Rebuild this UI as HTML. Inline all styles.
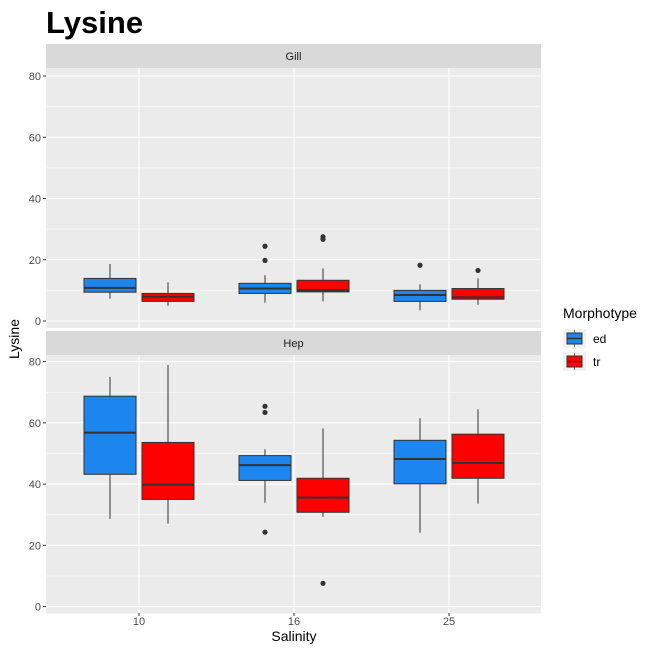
<!DOCTYPE html>
<html><head><meta charset="utf-8"><style>body{margin:0;background:#fff}svg{display:block;font-family:"Liberation Sans",Arial,sans-serif}</style></head>
<body>
<svg id="c" width="653" height="653" xmlns="http://www.w3.org/2000/svg">
<text x="46" y="33" font-size="31" font-weight="bold" fill="#000">Lysine</text>
<text x="294" y="641" font-size="14" text-anchor="middle" fill="#000">Salinity</text>
<text transform="translate(19,339) rotate(-90)" font-size="14" text-anchor="middle" fill="#000">Lysine</text>
<g>
<text x="563" y="318" font-size="14" fill="#000">Morphotype</text>
<g><rect x="563" y="329" width="23" height="19" fill="#f2f2f2"/><line x1="574.5" y1="330" x2="574.5" y2="347" stroke="#333" stroke-width="0.7"/><rect x="567" y="333" width="15" height="11" fill="#1c86ee" stroke="#333" stroke-width="1"/><line x1="567" y1="338.5" x2="582" y2="338.5" stroke="#333" stroke-width="1.4"/><text x="593" y="343" font-size="12" fill="#000">ed</text></g>
<g><rect x="563" y="352" width="23" height="19" fill="#f2f2f2"/><line x1="574.5" y1="353" x2="574.5" y2="370" stroke="#333" stroke-width="0.7"/><rect x="567" y="356" width="15" height="11" fill="#ff0000" stroke="#333" stroke-width="1"/><line x1="567" y1="361.5" x2="582" y2="361.5" stroke="#333" stroke-width="1.4"/><text x="593" y="366" font-size="12" fill="#000">tr</text></g>
</g>
</svg>
<script>
const categories=["10","16","25"];
const groups=["ed","tr"];
const facets=["Gill","Hep"];
// [category][group] = [whiskerLow, q1, median, q3, whiskerHigh]
const gillStats=[
 [[7.3,9.4,10.8,13.9,18.6],[5.0,6.4,7.9,9.0,12.6]],
 [[6.0,9.0,10.6,12.3,15.0],[6.4,9.5,10.1,13.3,17.2]],
 [[3.5,6.4,8.5,10.0,12.0],[5.3,7.1,7.7,10.6,13.9]]];
const gillOutliers=[[[],[]],[[24.4,19.8],[27.5,26.7]],[[18.2],[16.5]]];
const hepStats=[
 [[28.7,43.2,56.8,68.7,75.0],[27.1,35.0,39.8,53.6,78.9]],
 [[33.9,41.2,46.2,49.3,51.4],[29.4,30.8,35.6,41.9,58.2]],
 [[24.1,40.1,48.2,54.3,61.5],[33.6,41.9,46.9,56.3,64.4]]];
const hepOutliers=[[[],[]],[[65.4,63.4,24.3],[7.6]],[[],[]]];
const yTicks=[0,20,40,60,80];
const colors={ed:"#1c86ee",tr:"#ff0000"};
const NS="http://www.w3.org/2000/svg";
const svg=document.getElementById("c");
function mk(t,a,p){const e=document.createElementNS(NS,t);for(const k in a)e.setAttribute(k,a[k]);(p||svg).appendChild(e);return e;}
const X0=46,X1=541;
function xPos(i){return 139+i*155;}
function drawPanel(fi,stats,outs,stripTop,zeroY){
  const top=stripTop+24,bottom=zeroY+7;
  const g=mk("g",{});
  
  
  const st=mk("rect",{x:X0,y:stripTop,width:X1-X0,height:24,fill:"#d9d9d9"},g);
  
  
  const stt=mk("text",{x:(X0+X1)/2,y:stripTop+16,"font-size":11,"text-anchor":"middle",fill:"#1a1a1a"},g);
  stt.textContent=facets[fi];
  
  
  mk("rect",{x:X0,y:top,width:X1-X0,height:bottom-top,fill:"#ebebeb"},g);
  const yS=v=>zeroY-v*3.0625;
  for(let v=-10;v<=90;v+=10){const y=yS(v);if(y<top||y>bottom)continue;
    mk("line",{x1:X0,x2:X1,y1:y,y2:y,stroke:"#fff","stroke-width":v%20===0?1.1:0.5},g);}
  categories.forEach((c,i)=>mk("line",{x1:xPos(i),x2:xPos(i),y1:top,y2:bottom,stroke:"#fff","stroke-width":1.1},g));
  yTicks.forEach(v=>{const y=yS(v);
    mk("line",{x1:43,x2:46,y1:y,y2:y,stroke:"#333","stroke-width":1},g);
    const t=mk("text",{x:41,y:y+4,"font-size":11,"text-anchor":"end",fill:"#4d4d4d"},g);t.textContent=v;
    
    });
  categories.forEach((c,i)=>groups.forEach((gr,j)=>{
    const s=stats[i][j];const cx=xPos(i)+(j===0?-29:29);const hw=26;
    const b=mk("g",{},g);
    
    
    mk("line",{x1:cx,x2:cx,y1:yS(s[0]),y2:yS(s[4]),stroke:"#333","stroke-width":1},b);
    mk("rect",{x:cx-hw,y:yS(s[3]),width:2*hw,height:yS(s[1])-yS(s[3]),fill:colors[gr],stroke:"#333","stroke-width":1},b);
    mk("line",{x1:cx-hw,x2:cx+hw,y1:yS(s[2]),y2:yS(s[2]),stroke:"#333","stroke-width":2},b);
    outs[i][j].forEach(o=>{const p=mk("circle",{cx:cx,cy:yS(o),r:2.6,fill:"#333"},b);
      
      });
  }));
}
drawPanel(0,gillStats,gillOutliers,44,321);
drawPanel(1,hepStats,hepOutliers,331,606.6);
categories.forEach((c,i)=>{
  mk("line",{x1:xPos(i),x2:xPos(i),y1:613,y2:616,stroke:"#333","stroke-width":1});
  const t=mk("text",{x:xPos(i),y:625,"font-size":11,"text-anchor":"middle",fill:"#4d4d4d"});t.textContent=c;
  
  
});
</script>
</body></html>
